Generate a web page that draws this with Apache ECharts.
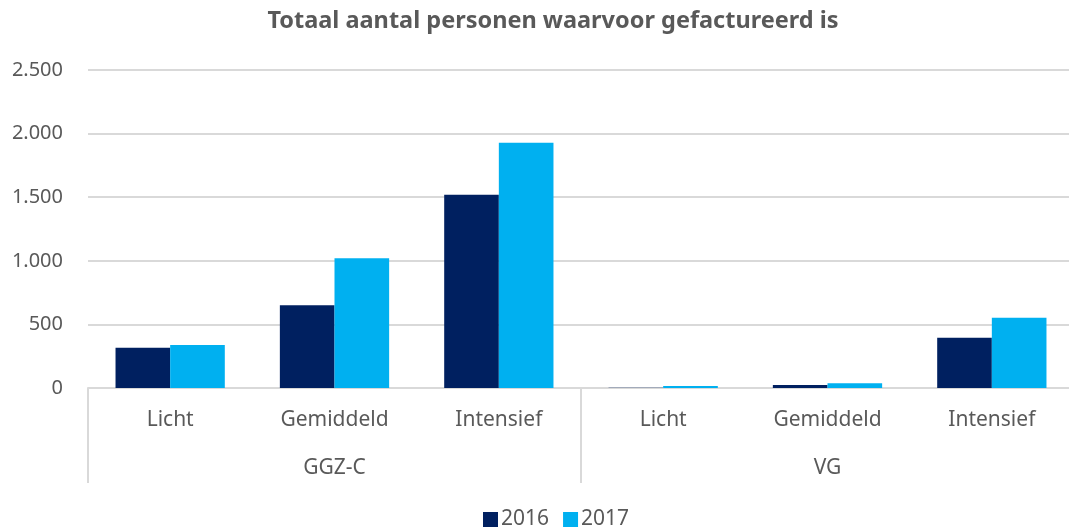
<!DOCTYPE html>
<html>
<head>
<meta charset="utf-8">
<script src="https://cdn.jsdelivr.net/npm/echarts@6/dist/echarts.min.js"></script>
<style>
html, body { margin: 0; padding: 0; background: #fff; overflow: hidden; }
#chart { width: 1076px; height: 529px; }
</style>
</head>
<body>
<div id="chart"></div>
<script>
// categorieen en waarden
var subCategories = ['Licht', 'Gemiddeld', 'Intensief', 'Licht', 'Gemiddeld', 'Intensief'];
var groups = ['GGZ-C', 'VG'];
var values2016 = [317, 651, 1519, 2, 24, 395];
var values2017 = [338, 1020, 1929, 15, 38, 553];
var yTicks = [0, 500, 1000, 1500, 2000, 2500];

var fontFamily = '"Noto Sans", sans-serif';
var textColor = '#595959';
var lineColor = '#d9d9d9';

function fmt(v) {
    // duizendtallen met een punt
    return String(v).replace(/\B(?=(\d{3})+(?!\d))/g, '.');
}

var myChart = echarts.init(document.getElementById('chart'));
myChart.setOption({
    animation: false,
    textStyle: { fontFamily: fontFamily },
    title: {
        text: 'Totaal aantal personen waarvoor gefactureerd is',
        left: 548,
        textAlign: 'center',
        top: 4,
        textStyle: { fontFamily: fontFamily, fontSize: 23.5, fontWeight: 'bold', color: textColor }
    },
    legend: {
        bottom: -6,
        left: 478,
        itemWidth: 15,
        itemHeight: 15,
        itemGap: 14,
        icon: 'rect',
        textStyle: { fontFamily: fontFamily, fontSize: 21, color: textColor, padding: [0, 0, 0, -2] }
    },
    grid: { left: 88, width: 986, top: 70, bottom: 141, containLabel: false },
    xAxis: [{
        type: 'category',
        data: subCategories,
        axisLine: { show: true, lineStyle: { color: lineColor, width: 2 } },
        axisTick: { show: false },
        axisLabel: { margin: 22, fontSize: 21, color: textColor, fontFamily: fontFamily }
    }, {
        type: 'category',
        position: 'bottom',
        data: groups,
        axisLine: { show: false },
        axisTick: { show: true, interval: 0, length: 95, lineStyle: { color: lineColor, width: 2 } },
        axisLabel: { margin: 70, fontSize: 21, color: textColor, fontFamily: fontFamily },
        splitLine: { show: false }
    }],
    yAxis: {
        type: 'value',
        min: 0,
        max: yTicks[yTicks.length - 1],
        interval: 500,
        axisLine: { show: false },
        axisTick: { show: false },
        splitLine: { lineStyle: { color: lineColor, width: 2 } },
        axisLabel: {
            margin: 25,
            fontSize: 20,
            color: textColor,
            fontFamily: fontFamily,
            formatter: fmt
        }
    },
    series: [{
        name: '2016',
        type: 'bar',
        data: values2016,
        barGap: '0%',
        barCategoryGap: '33.5%',
        itemStyle: { color: '#002060' }
    }, {
        name: '2017',
        type: 'bar',
        data: values2017,
        barGap: '0%',
        barCategoryGap: '33.5%',
        itemStyle: { color: '#00b0f0' }
    }]
});
</script>
</body>
</html>
